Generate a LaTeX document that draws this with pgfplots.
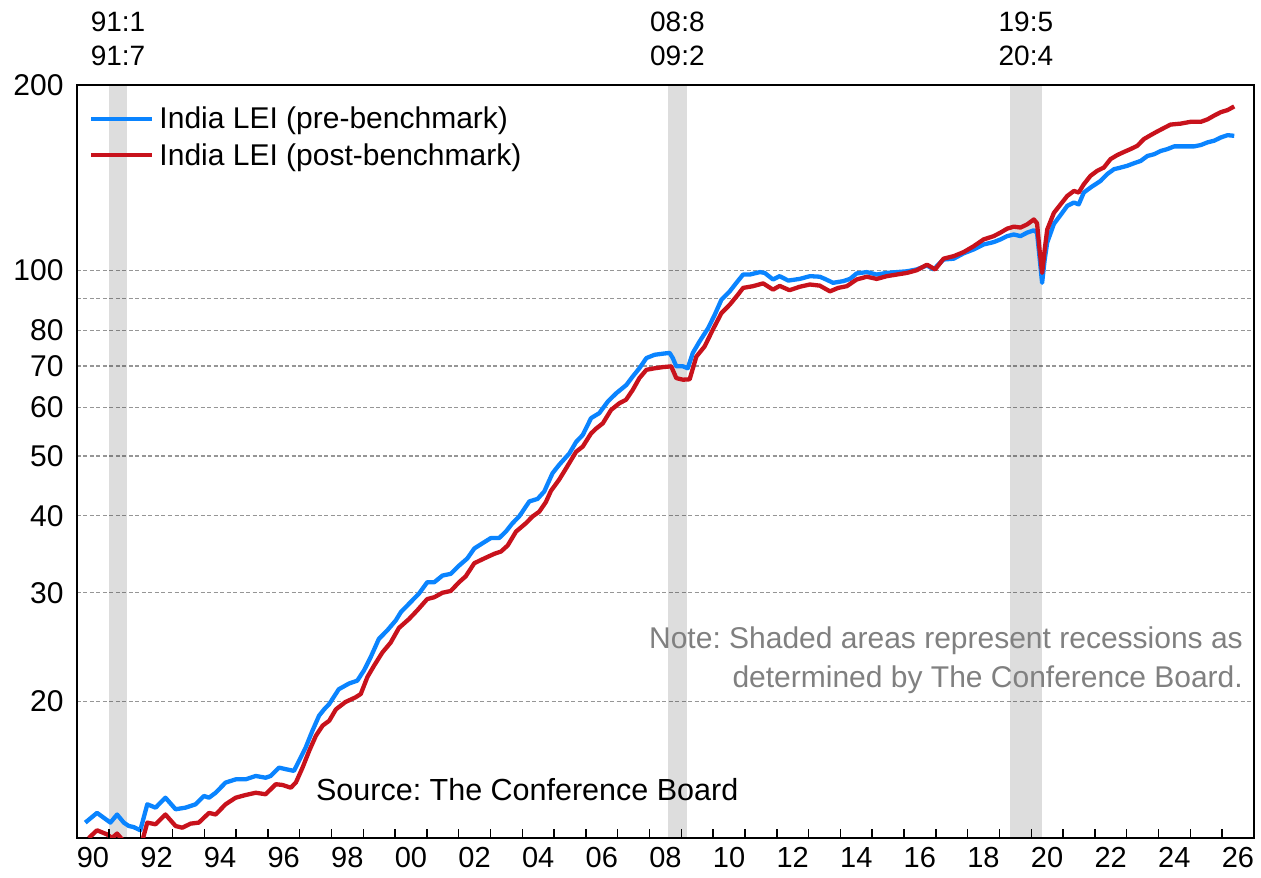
\documentclass[border=0pt]{standalone}
\usepackage{pgfplots}
\usepackage{pgfplotstable}
\pgfplotsset{compat=1.18}
\usepackage{fontspec}
\setmainfont{Liberation Sans}
\frenchspacing
\definecolor{leiblue}{RGB}{10,132,255}
\definecolor{leired}{RGB}{200,18,28}
\definecolor{gridgray}{RGB}{150,150,150}
\definecolor{notegray}{RGB}{128,128,128}
\newcommand\fs[1]{\fontsize{#1bp}{#1bp}\selectfont}

\pgfplotstableread{
year val
1990.26 12.71
1990.63 13.18
1991.05 12.71
1991.26 13.10
1991.47 12.71
1991.63 12.55
1991.78 12.50
1991.99 12.35
1992.21 13.61
1992.47 13.44
1992.78 13.95
1993.10 13.36
1993.41 13.44
1993.73 13.61
1993.99 14.04
1994.15 13.95
1994.36 14.21
1994.67 14.76
1994.99 14.94
1995.30 14.94
1995.62 15.13
1995.93 15.03
1996.09 15.13
1996.35 15.61
1996.56 15.52
1996.82 15.42
1996.98 16.01
1997.19 16.83
1997.40 17.91
1997.61 18.95
1997.77 19.41
1997.93 19.80
1998.23 20.92
1998.55 21.37
1998.81 21.60
1999.02 22.43
1999.23 23.57
1999.49 25.25
1999.75 26.05
2000.02 27.05
2000.18 27.9
2000.44 28.8
2000.75 29.9
2001.01 31.2
2001.23 31.2
2001.49 31.99
2001.75 32.2
2002.01 33.2
2002.27 34.1
2002.49 35.4
2002.75 36.1
2003.01 36.8
2003.27 36.8
2003.48 37.7
2003.69 38.9
2003.90 39.9
2004.22 42.2
2004.48 42.6
2004.69 43.8
2004.80 45.1
2004.95 46.9
2005.16 48.4
2005.48 50.5
2005.69 52.7
2005.90 54.1
2006.16 57.6
2006.42 58.7
2006.69 61.3
2006.95 63.2
2007.27 65.2
2007.47 67.3
2007.68 69.4
2007.90 72.1
2008.16 73.0
2008.42 73.3
2008.63 73.5
2008.73 72.1
2008.84 69.9
2009.05 69.9
2009.20 69.4
2009.36 73.5
2009.57 76.7
2009.84 80.6
2010.05 84.8
2010.26 89.7
2010.52 92.5
2010.73 95.5
2010.94 98.5
2011.15 98.5
2011.47 99.4
2011.62 99.1
2011.88 96.7
2012.09 97.9
2012.36 96.3
2012.72 96.9
2013.04 97.9
2013.35 97.7
2013.51 96.9
2013.77 95.5
2014.09 96.1
2014.30 96.9
2014.51 98.9
2014.83 99.4
2015.14 98.5
2015.46 99.1
2015.77 99.4
2016.09 99.7
2016.40 100.4
2016.72 101.9
2016.93 100.4
2017.24 104.2
2017.56 104.5
2017.87 106.6
2018.19 108.2
2018.50 110.2
2018.82 111.2
2019.03 112.3
2019.24 113.7
2019.45 114.4
2019.66 113.7
2019.87 115.2
2020.08 116.2
2020.18 115.2
2020.26 105.0
2020.34 95.5
2020.42 104.0
2020.50 111.0
2020.71 119.0
2020.92 123.0
2021.13 127.3
2021.34 128.9
2021.49 128.0
2021.65 133.8
2021.86 136.3
2022.18 139.8
2022.39 143.4
2022.60 146.0
2022.81 146.9
2023.02 147.9
2023.23 149.3
2023.44 150.6
2023.65 153.4
2023.86 154.4
2024.07 156.3
2024.28 157.4
2024.49 159.0
2024.80 159.0
2025.12 159.0
2025.33 159.8
2025.54 161.4
2025.75 162.4
2025.96 164.4
2026.17 165.8
2026.38 165.4
}\predata

\pgfplotstableread{
year val
1990.37 12.0
1990.63 12.35
1990.95 12.16
1991.10 12.0
1991.26 12.2
1991.47 11.85
1991.70 11.6
1991.95 11.4
1992.02 11.7
1992.21 12.71
1992.47 12.63
1992.78 13.10
1993.10 12.55
1993.31 12.47
1993.57 12.66
1993.83 12.71
1994.15 13.18
1994.36 13.10
1994.67 13.61
1994.99 13.95
1995.30 14.09
1995.62 14.21
1995.93 14.13
1996.25 14.67
1996.46 14.63
1996.72 14.48
1996.88 14.76
1997.09 15.61
1997.30 16.62
1997.51 17.58
1997.72 18.26
1997.93 18.60
1998.14 19.41
1998.44 19.95
1998.76 20.3
1998.92 20.55
1999.13 21.9
1999.34 22.85
1999.60 24.0
1999.86 24.9
2000.12 26.3
2000.44 27.2
2000.70 28.1
2001.01 29.3
2001.23 29.5
2001.49 30.0
2001.75 30.2
2002.01 31.2
2002.22 31.9
2002.49 33.5
2002.80 34.1
2003.12 34.7
2003.33 35.0
2003.54 35.8
2003.80 37.7
2004.11 38.9
2004.32 39.9
2004.53 40.6
2004.74 42.1
2004.90 43.9
2005.16 45.8
2005.37 47.7
2005.69 50.8
2005.90 51.8
2006.16 54.4
2006.32 55.4
2006.53 56.5
2006.79 59.4
2007.05 60.9
2007.26 61.7
2007.47 64.0
2007.68 66.9
2007.90 69.0
2008.16 69.4
2008.42 69.7
2008.68 69.9
2008.84 66.9
2009.05 66.5
2009.26 66.6
2009.47 72.5
2009.73 75.3
2009.99 80.2
2010.26 85.3
2010.52 88.0
2010.78 91.4
2010.94 93.7
2011.25 94.3
2011.57 95.3
2011.88 93.1
2012.09 94.4
2012.40 92.9
2012.72 94.1
2013.04 94.9
2013.35 94.5
2013.67 92.5
2013.93 93.7
2014.20 94.3
2014.51 96.7
2014.83 97.7
2015.14 96.9
2015.46 97.9
2015.77 98.5
2016.09 99.1
2016.40 100.1
2016.72 102.2
2016.98 100.4
2017.24 104.5
2017.56 105.5
2017.87 107.1
2018.19 109.5
2018.50 112.3
2018.82 113.7
2019.03 115.2
2019.24 116.9
2019.45 117.8
2019.66 117.4
2019.87 118.8
2020.08 121.0
2020.18 119.3
2020.26 108.0
2020.34 99.1
2020.42 108.0
2020.50 116.5
2020.71 124.0
2020.92 128.0
2021.13 132.1
2021.34 134.6
2021.49 133.8
2021.65 138.0
2021.86 142.4
2022.07 145.1
2022.28 146.9
2022.49 151.6
2022.70 153.9
2022.91 155.7
2023.12 157.4
2023.33 159.3
2023.54 163.4
2023.75 165.8
2023.96 168.1
2024.17 170.3
2024.38 172.5
2024.69 173.1
2025.01 174.3
2025.33 174.3
2025.54 175.9
2025.75 178.4
2025.96 180.7
2026.17 182.1
2026.38 184.6
}\postdata

\begin{document}
\begin{tikzpicture}
\begin{axis}[
  scale only axis,
  width=1177bp, height=753bp,
  xmin=1990, xmax=2027,
  ymode=log, ymin=12, ymax=200,
  axis line style={line width=2.6bp, black},
  tick pos=left,
  tick align=inside,
  major tick length=9bp,
  xtick={1990,...,2026},
  xticklabels={90,,92,,94,,96,,98,,00,,02,,04,,06,,08,,10,,12,,14,,16,,18,,20,,22,,24,,26},
  xticklabel style={font=\fs{29}, xshift=15.9bp, yshift=-6bp},
  every x tick/.style={line width=1.4bp, black},
  every y tick/.style={draw=none},
  ytick={20,30,40,50,60,70,80,90,100,200},
  yticklabels={20,30,40,50,60,70,80,,100,200},
  ymajorgrids,
  major grid style={gridgray, line width=1.1bp, dash pattern=on 4bp off 2.5bp},
  yticklabel style={font=\fs{30}, xshift=-10bp},
  /pgf/number format/assume math mode=true,
  legend style={draw=none, fill=none, at={(0,1)}, anchor=north west,
    xshift=12bp, yshift=-20bp, font=\fs{30}, row sep=9bp, inner sep=0pt,
    nodes={inner sep=2bp}},
  legend cell align=left,
  legend image code/.code={\draw[#1] (0bp,0bp) -- (61bp,0bp);},
]
\addplot[fill=black, fill opacity=0.135, draw=none, forget plot]
  coordinates {(1991.0,12) (1991.0,200) (1991.583,200) (1991.583,12)};
\addplot[fill=black, fill opacity=0.135, draw=none, forget plot]
  coordinates {(2008.583,12) (2008.583,200) (2009.167,200) (2009.167,12)};
\addplot[fill=black, fill opacity=0.135, draw=none, forget plot]
  coordinates {(2019.333,12) (2019.333,200) (2020.333,200) (2020.333,12)};

\addplot[leiblue, line width=4.3bp, line join=round] table[x=year,y=val] {\predata};
\addlegendentry{\hspace{3bp}India LEI (pre-benchmark)}
\addplot[leired, line width=4.3bp, line join=round] table[x=year,y=val] {\postdata};
\addlegendentry{\hspace{3bp}India LEI (post-benchmark)}
\end{axis}
\begin{axis}[
  scale only axis, width=1177bp, height=753bp,
  xmin=1990, xmax=2027, ymode=log, ymin=12, ymax=200,
  hide axis, clip=false]
\addplot[draw=none, forget plot] coordinates {(2000,50)};
\pgfplotsinvokeforeach{1991,...,2026}{
  \draw[line width=1.4bp, black] (axis cs:#1,12) -- ([yshift=9bp]axis cs:#1,12);
}
\node[font=\fs{28}] at (axis cs:1991.29,252.9) {91:1};
\node[font=\fs{28}] at (axis cs:1991.29,222.9) {91:7};
\node[font=\fs{28}] at (axis cs:2008.875,252.9) {08:8};
\node[font=\fs{28}] at (axis cs:2008.875,222.9) {09:2};
\node[font=\fs{28}] at (axis cs:2019.83,252.9) {19:5};
\node[font=\fs{28}] at (axis cs:2019.83,222.9) {20:4};
\node[anchor=west, inner sep=0pt, font=\fs{30.5}] at (rel axis cs:0.203,0.0637) {Source: The Conference Board};
\node[anchor=east, inner sep=0pt, align=right, text=notegray,
  font=\fontsize{30bp}{39bp}\selectfont] at (rel axis cs:0.9907,0.2357)
  {Note: Shaded areas represent recessions as\\determined by The Conference Board.};
\end{axis}
\pgfresetboundingbox
\path[use as bounding box] (-77bp,-40bp) rectangle (1184bp,838bp);
\end{tikzpicture}
\end{document}
